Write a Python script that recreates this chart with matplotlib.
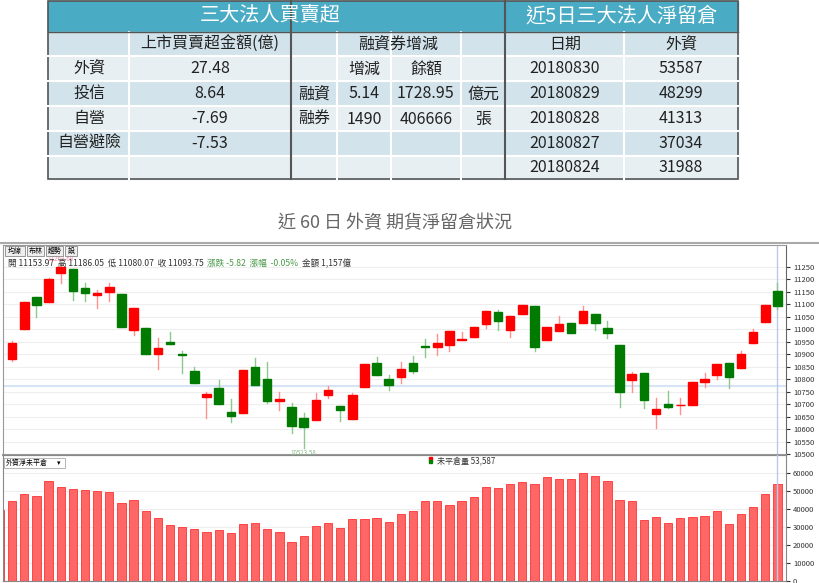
import matplotlib
matplotlib.use("Agg")
import matplotlib.pyplot as plt
from matplotlib.patches import Rectangle
import numpy as np

plt.rcParams["font.family"] = ["Noto Sans CJK TC", "DejaVu Sans"]

# ---------------- data ----------------
opens  = [10880,11000,11127,11110,11226,11241,11166,11138,11150,11141,10996,11006,10902,10947,10900,10832,10728,10766,10667,10666,
          10848,10800,10711,10688,10643,10636,10736,10692,10641,10768,10866,10800,10810,10866,10932,10927,10935,10958,10967,11021,
          11070,10996,11059,11093,10955,10994,11023,11025,11061,11006,10936,10795,10823,10661,10700,10695,10695,10790,10816,10863,
          10846,10943,11029,11153.97]
highs  = [10954,11107,11127,11203,11262.68,11241,11183,11157,11186,11141,11083,11006,10966,10988,10912,10850,10750,10796,10720,10835,
          10883,10868,10747,10706,10663,10743,10774,10692,10743,10862,10887,10816,10870,10892,10960,10979,10994,10987,11007,11074,
          11077,11054,11097,11093,11010,11053,11023,11093,11061,11033,10936,10827,10823,10723,10754,10726,10790,10823,10859,10863,
          10912,11000,11095,11186.05]
lows   = [10874,11000,11050,11110,11183,11117,11113,11083,11114,11010,10976,10902,10839,10939,10826,10784,10645,10699,10630,10666,
          10776,10703,10676,10583,10523.58,10636,10726,10632,10641,10768,10816,10756,10786,10823,10890,10898,10914,10955,10967,11006,
          10996,10970,11059,10914,10955,10994,10983,11025,10996,10966,10689,10750,10683,10603,10683,10659,10695,10770,10799,10766,
          10846,10943,11029,11080.07]
closes = [10946,11107,11097,11199,11250,11153,11146,11143,11170,11010,11083,10902,10926,10939,10898,10784,10740,10699,10653,10835,
          10776,10714,10719,10611,10607,10716,10755,10676,10736,10862,10816,10776,10840,10834,10930,10943,10994,10962,11007,11074,
          11033,11054,11097,10927,11010,11021,10983,11073,11026,10983,10747,10822,10716,10680,10690,10698,10790,10800,10859,10808,
          10899,10987,11095,11093.75]
oi = [39320,44490,48180,47260,55380,52060,50770,50210,49840,49290,43380,44670,38770,34700,30830,29720,28610,26950,28060,26400,
      31570,32120,28610,27320,21600,24740,30270,32300,29350,34520,34520,34700,32860,36920,38580,44120,44490,41900,44490,46700,
      52240,51690,53530,54640,53710,57600,56300,56300,59810,58150,55380,44860,44120,33970,35260,32120,34700,35260,36180,38770,
      31750,36920,40800,48000,53587]
price_ticks = [10500,10550,10600,10650,10700,10750,10800,10850,10900,10950,11000,11050,11100,11150,11200,11250]
oi_ticks = [0,10000,20000,30000,40000,50000,60000]

row_labels = ["外資", "投信", "自營", "自營避險"]
row_values = ["27.48", "8.64", "-7.69", "-7.53"]
dates = ["20180830", "20180829", "20180828", "20180827", "20180824"]
foreign_oi = ["53587", "48299", "41313", "37034", "31988"]

W, H = 820, 583
fig = plt.figure(figsize=(8.2, 5.83), dpi=100)
bg = fig.add_axes([0, 0, 1, 1])
bg.set_xlim(0, W); bg.set_ylim(H, 0); bg.axis("off")

# ---------------- table ----------------
teal = "#4aabc4"; dark = "#d2e3eb"; light = "#e7eff3"
bg.add_patch(Rectangle((48, 1), 690, 31, color=teal))
rows_y = [32, 56, 81, 106, 131, 156, 179]
for i in range(6):
    bg.add_patch(Rectangle((48, rows_y[i]), 690, rows_y[i+1]-rows_y[i],
                           color=dark if i % 2 == 0 else light))
for y in rows_y[1:-1]:
    bg.plot([48, 738], [y, y], color="white", lw=1.5)
for x in [129, 337, 391, 461, 624]:
    bg.plot([x, x], [32, 179], color="white", lw=1.5)
for x in [291, 505]:
    bg.plot([x, x], [1, 179], color="#555555", lw=1.5)
bg.plot([48, 738], [32, 32], color="#555555", lw=1)
bg.add_patch(Rectangle((48, 1), 690, 178, fill=False, ec="#555555", lw=1.2))
bg.text(270, 16, "三大法人買賣超", color="white", fontsize=14.5, ha="center", va="center")
bg.text(622, 16, "近5日三大法人淨留倉", color="white", fontsize=14.5, ha="center", va="center")
fs = 11.5
def t(x, y, s):
    bg.text(x, y, s, fontsize=fs, ha="center", va="center", color="#222222")
t(210, 44, "上市買賣超金額(億)")
t(398, 44, "融資券增減")
t(565, 44, "日期"); t(681, 44, "外資")
for i, (lab, val) in enumerate(zip(row_labels, row_values)):
    yc = (rows_y[i+1] + rows_y[i+2]) / 2
    t(89, yc, lab); t(210, yc, val)
t(364, 69, "增減"); t(426, 69, "餘額")
t(314, 94, "融資"); t(364, 94, "5.14"); t(426, 94, "1728.95"); t(483, 94, "億元")
t(314, 119, "融券"); t(364, 119, "1490"); t(426, 119, "406666"); t(483, 119, "張")
for i, (d, v) in enumerate(zip(dates, foreign_oi)):
    yc = (rows_y[i+1] + rows_y[i+2]) / 2
    t(565, yc, d); t(681, yc, v)

bg.text(395, 223, "近 60 日 外資 期貨淨留倉狀況", fontsize=13, ha="center", va="center", color="#666666")
bg.plot([0, W], [243, 243], color="#aaaaaa", lw=1.5)

# ---------------- candles ----------------
n = len(opens)
x = np.arange(1, n + 1)
xl = (0.25, 64.7)
axp = fig.add_axes([3/W, (H-455)/H, 783/W, 210/H])
axp.patch.set_alpha(0)
axp.set_xlim(*xl); axp.set_ylim(10496, 11337)
for v in price_ticks:
    axp.axhline(v, color="#eeeeee", lw=0.8, zorder=0)
axp.axhline(10774, color="#d6e4f5", lw=1.5, zorder=0)
axp.axvline(n, color="#b8cbe6", lw=1, zorder=0)
for xi, o, h, l, c in zip(x, opens, highs, lows, closes):
    col = "#ff0000" if c >= o else "#007a00"
    wcol = "#ff9090" if c >= o else "#8ec88e"
    axp.plot([xi, xi], [l, h], color=wcol, lw=1, zorder=1)
    bh = max(abs(c - o), 3)
    axp.add_patch(Rectangle((xi - 0.35, min(o, c)), 0.7, bh, color=col, zorder=2))
axp.yaxis.tick_right()
axp.set_yticks(price_ticks)
axp.tick_params(axis="y", labelsize=5.5, length=3, colors="#333333", pad=2)
axp.set_xticks([])
for s in ["top", "left"]:
    axp.spines[s].set_color("#999999")
axp.spines["right"].set_color("#666666")
axp.spines["bottom"].set_color("#999999"); axp.spines["bottom"].set_linewidth(1.5)
i_low = int(np.argmin(lows)); i_high = int(np.argmax(highs))
axp.text(x[i_low], lows[i_low] - 3, f"{lows[i_low]:.2f}", fontsize=4.5, color="#88bb88", ha="center", va="top")
axp.text(x[i_high], highs[i_high] + 3, f"{highs[i_high]:.2f}", fontsize=4.5, color="#ff88aa", ha="center", va="bottom")

# toolbar and info
for bx, w, lab in zip([5, 27, 46, 65], [20, 17, 17, 12], ["均線", "布林", "趨勢", "設"]):
    fig.patches.append(Rectangle((bx/W, 1 - 256/H), w/W, 10/H, fc="#eeeeee", ec="#888888", lw=0.6,
                                 transform=fig.transFigure, figure=fig))
    fig.text((bx + w/2)/W, 1 - 251/H, lab, fontsize=5, ha="center", va="center")
info = [("開 11153.97  高 11186.05  低 11080.07  收 11093.75  ", "#333333"),
        ("漲跌 -5.82  漲幅  -0.05%  ", "#4a9a4a"), ("金額 1,157億", "#333333")]
xx = 8
fig.canvas.draw()
for s, c in info:
    tt = fig.text(xx/W, 1 - 263.5/H, s, fontsize=6.2, color=c, va="center")
    bb = tt.get_window_extent(renderer=fig.canvas.get_renderer())
    xx += bb.width

# ---------------- open interest bars ----------------
axb = fig.add_axes([3/W, 2/H, 783/W, 126/H])
axb.patch.set_alpha(0)
xb = np.arange(0, len(oi))
axb.set_xlim(*xl); axb.set_ylim(0, 69800)
for v in oi_ticks:
    axb.axhline(v, color="#eeeeee", lw=0.8, zorder=0)
axb.bar(xb, oi, width=0.68, color="#ff6666", edgecolor="#ff3333", lw=0.6, zorder=2)
axb.axvline(n, color="#b8cbe6", lw=1, zorder=3)
axb.yaxis.tick_right()
axb.set_yticks(oi_ticks)
axb.tick_params(axis="y", labelsize=5.5, length=3, colors="#333333", pad=2)
axb.set_xticks([])
for s in ["top", "left", "right", "bottom"]:
    axb.spines[s].set_color("#888888")
fig.patches.append(Rectangle((4/W, 1 - 468/H), 61/W, 10/H, fc="white", ec="#aaaaaa", lw=0.6,
                             transform=fig.transFigure, figure=fig))
fig.text(6/W, 1 - 463/H, "外資淨未平倉", fontsize=5, va="center")
fig.text(59/W, 1 - 463/H, "▾", fontsize=5, va="center", ha="center")
fig.patches.append(Rectangle((429/W, 1 - 460/H), 3/W, 3/H, color="#ff0000", transform=fig.transFigure, figure=fig))
fig.patches.append(Rectangle((429/W, 1 - 463/H), 3/W, 3/H, color="#008000", transform=fig.transFigure, figure=fig))
fig.text(437/W, 1 - 461/H, f"未平倉量 {oi[-1]:,}", fontsize=5.8, color="#333333", va="center")

fig.savefig("out.png", dpi=100)
